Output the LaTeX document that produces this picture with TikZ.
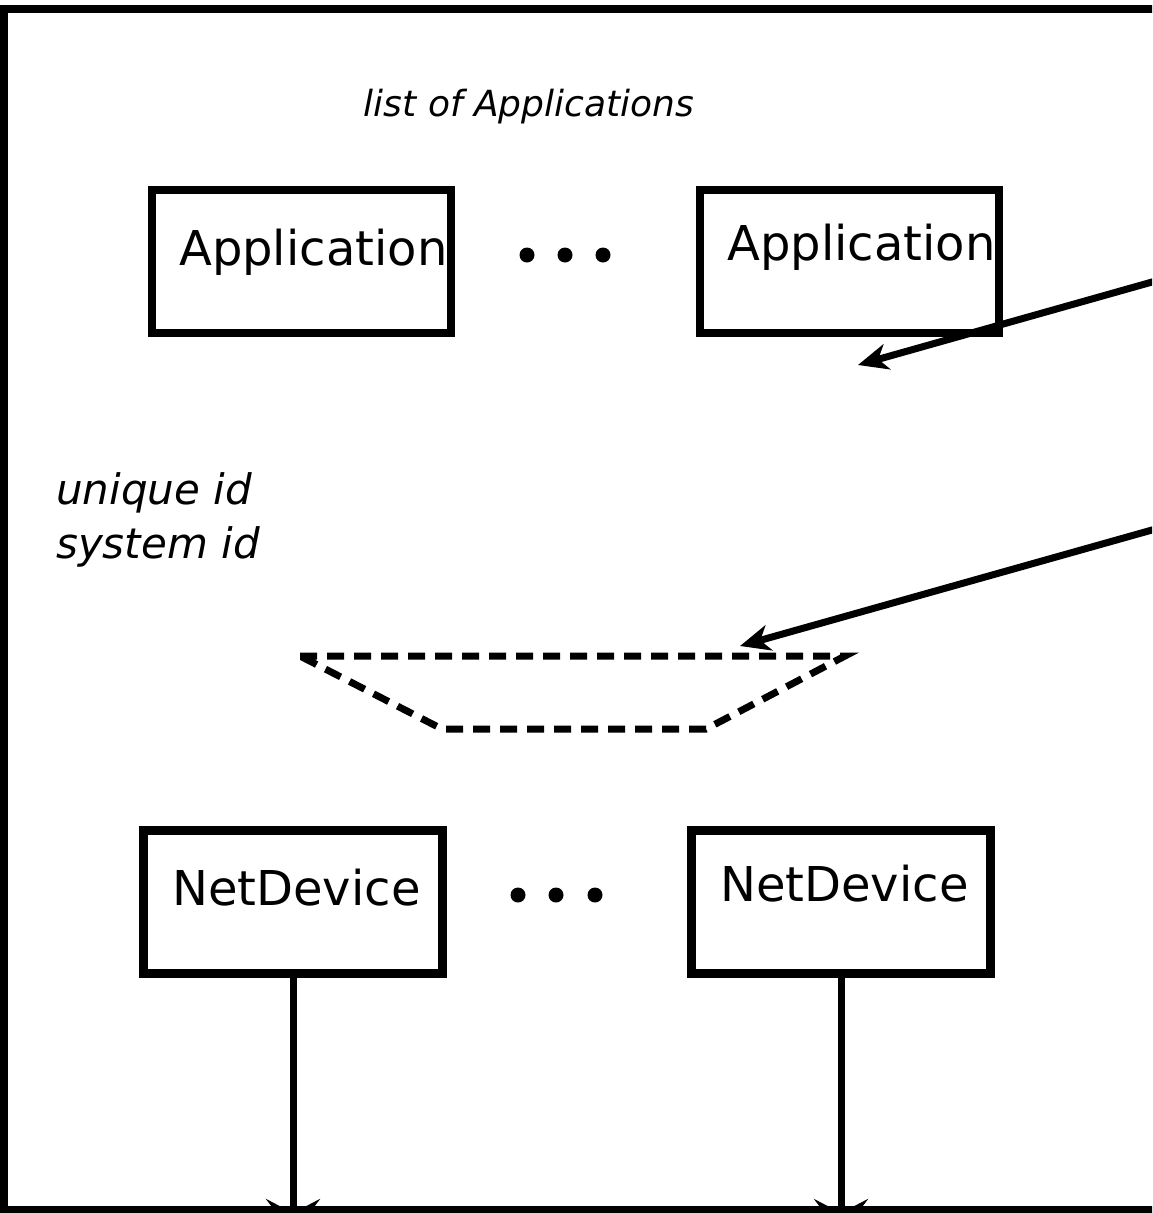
\documentclass[tikz,border=0pt]{standalone}
\usepackage{fontspec}
\setmainfont{DejaVu Sans}
\usetikzlibrary{arrows.meta}

\begin{document}
\begin{tikzpicture}[x=1pt, y=-1pt,
    box/.style={rectangle, draw, line width=8.5pt, minimum width=299pt, minimum height=143pt, inner sep=0pt},
    boxtext/.style={anchor=base west, inner sep=0pt, font=\fontsize{48}{56}\selectfont},
    note/.style={inner sep=0pt, font=\itshape\fontsize{36}{44}\selectfont},
    dot/.style={circle, fill, inner sep=0pt, minimum size=15pt}]
    \useasboundingbox (0,0) rectangle (1152,1213);
    \clip (0,0) rectangle (1152,1213);

    % frame
    \draw[line width=8pt] (3.5,8.5) rectangle (1175,1209.5);

    % Application row
    \node (lstapp) [note, anchor=base] at (529,116) {list of Applications};
    \node (app1) [box] at (301.5,261.5) {};
    \node (app2) [box] at (849.5,261.5) {};
    \node (app1txt) [boxtext] at (179,265.5) {Application};
    \node (app2txt) [boxtext] at (727,260.5) {Application};
    \node (adot1) [dot] at (527,255) {};
    \node (adot2) [dot] at (565,255) {};
    \node (adot3) [dot] at (603,255) {};

    % ids
    \node (ids) [note, anchor=base west, align=left, font=\itshape\fontsize{42}{54}\selectfont] at (56,558) {unique id\\system id};

    % dashed shape
    \coordinate (tl) at (300,656);
    \coordinate (tr) at (845,656);
    \coordinate (br) at (706,729);
    \coordinate (bl) at (442,729);
    \draw[line width=7pt, dash pattern=on 17pt off 10pt, miter limit=20] (tl) -- (tr) -- (br) -- (bl) -- cycle;

    % NetDevice row
    \node (net1) [box] at (293,902) {};
    \node (net2) [box] at (841,902) {};
    \node (net1txt) [boxtext] at (172,905) {NetDevice};
    \node (net2txt) [boxtext] at (720,901) {NetDevice};
    \node (ndot1) [dot] at (518,895) {};
    \node (ndot2) [dot] at (556,895) {};
    \node (ndot3) [dot] at (595,895) {};

    % Arrows
    \coordinate (src1) at (1190,271.3);
    \coordinate (dst1) at (858,365);
    \coordinate (src2) at (1190,519.3);
    \coordinate (dst2) at (740,646);
    \coordinate (out1) at (293,1235);
    \coordinate (out2) at (841,1235);
    \draw[line width=7pt, -{Stealth[length=30pt, width=26pt, inset=9pt]}] (src1) -- (dst1);
    \draw[line width=7pt, -{Stealth[length=30pt, width=26pt, inset=9pt]}] (src2) -- (dst2);
    \draw[line width=7pt, -{Stealth[length=36pt, width=54pt, inset=14pt]}] (net1.south) -- (out1);
    \draw[line width=7pt, -{Stealth[length=36pt, width=54pt, inset=14pt]}] (net2.south) -- (out2);
\end{tikzpicture}
\end{document}
